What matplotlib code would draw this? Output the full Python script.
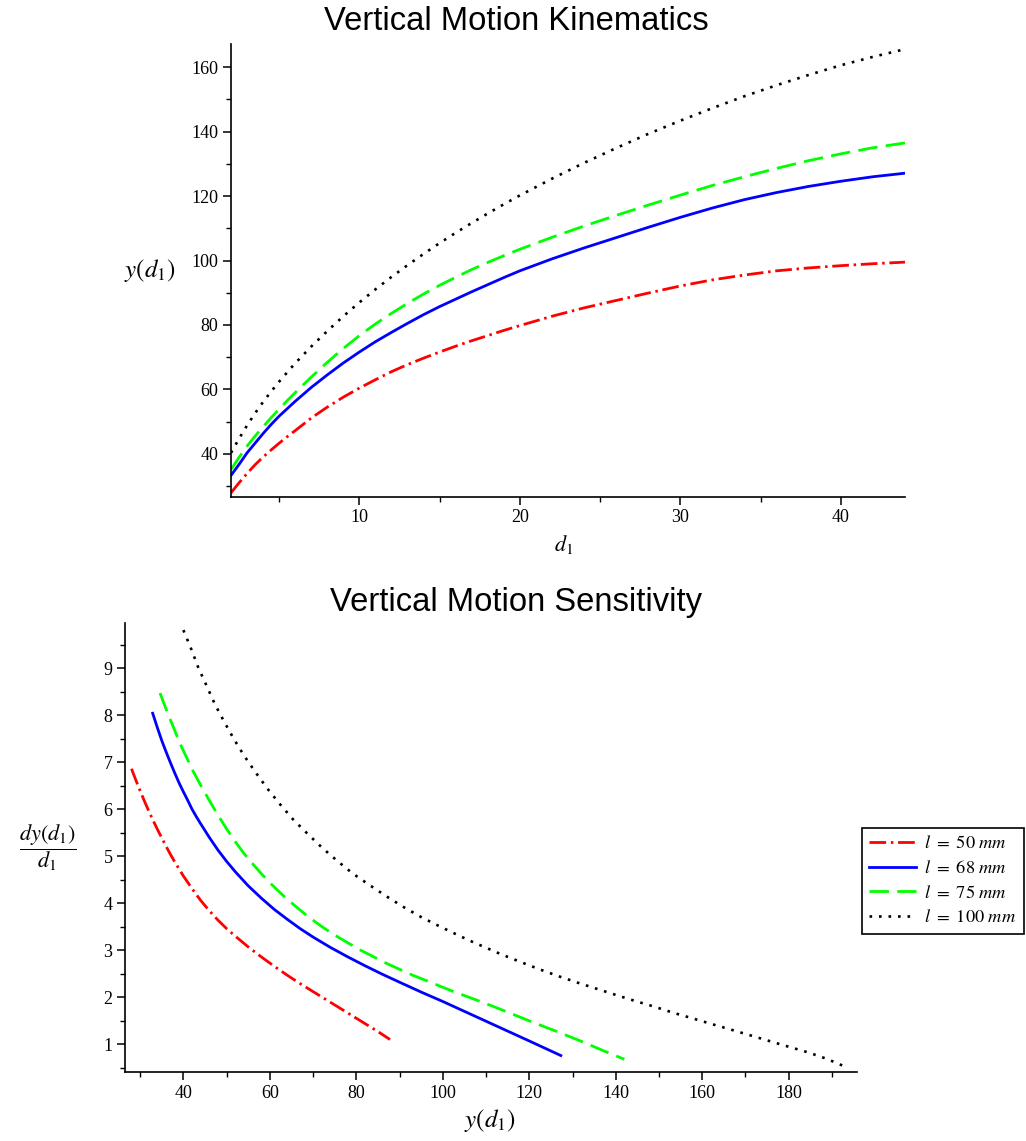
import matplotlib
matplotlib.use("Agg")
import matplotlib.pyplot as plt
from matplotlib.ticker import FixedLocator

plt.rcParams["font.family"] = ["Liberation Serif", "DejaVu Serif"]
plt.rcParams["mathtext.fontset"] = "stix"

# link lengths shown in the legend (mm)
link_lengths = [50, 68, 75, 100]
colors = ["#ff0000", "#0000ff", "#00ff00", "#000000"]
line_styles = [(0, (6, 1.7, 0.9, 1.7)), "-", (0, (7, 3)), (0, (1, 2.6))]
line_widths = [2.0, 2.0, 2.0, 1.9]

# --- vertical position y(d1) against the input displacement d1 ---
d1 = [2, 2.5, 3, 3.5, 4, 4.5, 5, 5.5, 6, 7, 8, 9, 10, 11, 12, 13, 14, 15, 16, 17,
      18, 19, 20, 22, 24, 26, 28, 30, 32, 34, 36, 38, 40, 42, 44]
y_l50 = [27.9, 31.0, 33.9, 36.6, 39.0, 41.2, 43.3, 45.3, 47.2, 51.1, 54.5, 57.6,
         60.4, 63.0, 65.5, 67.7, 69.7, 71.6, 73.4, 75.1, 76.7, 78.3, 79.8, 82.7,
         85.3, 87.6, 89.9, 92.1, 94.0, 95.5, 96.8, 97.7, 98.4, 99.0, 99.5]
y_l68 = [33.3, 36.7, 40.3, 43.3, 46.3, 49.1, 51.7, 54.0, 56.3, 60.6, 64.5, 68.2,
         71.6, 74.8, 77.7, 80.5, 83.2, 85.7, 88.0, 90.3, 92.5, 94.7, 96.8, 100.5,
         103.9, 107.1, 110.3, 113.4, 116.3, 118.9, 121.1, 123.0, 124.6, 126.0, 127.1]
y_l75 = [35.1, 38.9, 42.4, 45.5, 48.4, 51.2, 53.9, 56.5, 59.0, 63.8, 68.4, 72.7,
         76.7, 80.3, 83.6, 86.7, 89.6, 92.3, 94.8, 97.2, 99.4, 101.5, 103.5, 107.2,
         110.7, 114.0, 117.2, 120.3, 123.3, 126.0, 128.6, 131.0, 133.1, 135.0, 136.5]
y_l100 = [40.3, 44.7, 48.8, 52.6, 56.1, 59.35, 62.4, 65.3, 68.1, 73.3, 78.1, 82.7,
          87.0, 91.05, 94.9, 98.55, 102.05, 105.4, 108.6, 111.65, 114.6, 117.45, 120.2,
          125.4, 130.3, 134.9, 139.3, 143.4, 147.3, 151.0, 154.4, 157.6, 160.6, 163.2, 165.6]

# --- sensitivity dy/dd1 against the vertical position y ---
ys_l50 = [28, 29, 30, 31, 32, 33, 34, 35, 36, 37, 38, 39, 40, 42, 44, 46, 48, 50,
          52, 55, 58, 61, 64, 67, 70, 73, 76, 79, 82, 85, 87.8]
dy_l50 = [6.86, 6.62, 6.39, 6.17, 5.96, 5.76, 5.57, 5.39, 5.21, 5.04, 4.88, 4.73,
          4.58, 4.31, 4.06, 3.84, 3.64, 3.46, 3.30, 3.07, 2.86, 2.66, 2.47, 2.29,
          2.12, 1.95, 1.78, 1.61, 1.44, 1.27, 1.10]

ys_l68 = [32.9, 34, 35, 36, 37, 38, 39, 40, 41, 42, 43, 44, 46, 48, 50, 52, 55, 58,
          61, 64, 67, 70, 74, 78, 82, 86, 90, 95, 100, 105, 110, 115, 120, 127.3]
dy_l68 = [8.04, 7.73, 7.46, 7.22, 6.99, 6.77, 6.56, 6.37, 6.19, 6.00, 5.84, 5.69,
          5.40, 5.13, 4.89, 4.67, 4.37, 4.11, 3.87, 3.66, 3.46, 3.28, 3.06, 2.86,
          2.67, 2.49, 2.32, 2.11, 1.91, 1.70, 1.49, 1.28, 1.07, 0.76]

ys_l75 = [34.6, 35.5, 36.5, 37.5, 38.5, 39.6, 41, 42.3, 44, 45.6, 47, 48.5, 50, 52,
          54, 56.2, 58, 60.4, 63, 65.5, 68.5, 71.6, 74.5, 77.8, 81, 84, 87, 90.1, 93,
          96.3, 99.5, 102.5, 108.7, 112.9, 116.7, 121.3, 126.7, 132.1, 136.7, 142.0]
dy_l75 = [8.47, 8.25, 8.01, 7.79, 7.56, 7.32, 7.05, 6.80, 6.51, 6.25, 6.03, 5.80,
          5.58, 5.31, 5.06, 4.82, 4.63, 4.40, 4.17, 3.97, 3.74, 3.53, 3.35, 3.17,
          3.00, 2.86, 2.72, 2.59, 2.47, 2.35, 2.23, 2.12, 1.91, 1.76, 1.62, 1.45,
          1.26, 1.06, 0.88, 0.68]

ys_l100 = [40.0, 41.8, 43.5, 45.4, 47.3, 49.5, 51.7, 54.1, 56.8, 59.5, 62.4, 65.4,
           68.8, 72.1, 75.6, 79.2, 83.0, 86.9, 90.9, 94.9, 99.0, 103.3, 107.3, 111.6,
           113.6, 118.0, 122.5, 126.7, 131.2, 135.6, 140.0, 144.5, 148.9, 153.3, 157.8,
           162.2, 166.7, 171.1, 175.5, 179.9, 184.4, 188.8, 193.4]
dy_l100 = [9.81, 9.41, 9.00, 8.62, 8.23, 7.85, 7.49, 7.13, 6.77, 6.43, 6.10, 5.78,
           5.47, 5.18, 4.90, 4.63, 4.39, 4.15, 3.92, 3.71, 3.52, 3.33, 3.16, 2.99,
           2.91, 2.75, 2.59, 2.45, 2.31, 2.18, 2.05, 1.92, 1.80, 1.67, 1.55,
           1.43, 1.31, 1.19, 1.07, 0.95, 0.83, 0.69, 0.51]

W, H = 1026, 1141
fig = plt.figure(figsize=(W / 100, H / 100), dpi=100)


def px_axes(left, top, right, bottom):
    return fig.add_axes([left / W, 1 - bottom / H, (right - left) / W, (bottom - top) / H])


def style_axes(ax):
    for side in ("top", "right"):
        ax.spines[side].set_visible(False)
    for side in ("left", "bottom"):
        ax.spines[side].set_linewidth(1.2)
    ax.tick_params(which="major", direction="out", length=6, width=1.1,
                   labelsize=13, pad=3)
    ax.tick_params(which="minor", direction="out", length=3.5, width=1.0)


ax1 = px_axes(231, 44, 905, 497)
top_series = [y_l50, y_l68, y_l75, y_l100]
for vals, c, ls, lw in zip(top_series, colors, line_styles, line_widths):
    ax1.plot(d1, vals, color=c, linestyle=ls, linewidth=lw)
ax1.set_xlim(2, 44)
ax1.set_ylim(26.6, 167.2)
ax1.xaxis.set_major_locator(FixedLocator([10, 20, 30, 40]))
ax1.xaxis.set_minor_locator(FixedLocator([5, 15, 25, 35]))
ax1.yaxis.set_major_locator(FixedLocator(list(range(40, 161, 20))))
ax1.yaxis.set_minor_locator(FixedLocator(list(range(30, 151, 20))))
style_axes(ax1)

ax2 = px_axes(125, 623, 857, 1072)
bottom_series = [(ys_l50, dy_l50), (ys_l68, dy_l68), (ys_l75, dy_l75), (ys_l100, dy_l100)]
handles = []
for (xs, vs), c, ls, lw, L in zip(bottom_series, colors, line_styles, line_widths, link_lengths):
    h, = ax2.plot(xs, vs, color=c, linestyle=ls, linewidth=lw,
                  label=r"$l\ =\ %d\ mm$" % L)
    handles.append(h)
ax2.set_xlim(26.5, 195.8)
ax2.set_ylim(0.41, 9.96)
ax2.xaxis.set_major_locator(FixedLocator(list(range(40, 181, 20))))
ax2.xaxis.set_minor_locator(FixedLocator(list(range(30, 191, 20))))
ax2.yaxis.set_major_locator(FixedLocator(list(range(1, 10))))
ax2.yaxis.set_minor_locator(FixedLocator([k + 0.5 for k in range(0, 10)]))
style_axes(ax2)

title_font = dict(family="Liberation Sans", fontsize=23.6)
fig.text(516 / W, 1 - 22 / H, "Vertical Motion Kinematics", ha="center", va="center", **title_font)
fig.text(516 / W, 1 - 603 / H, "Vertical Motion Sensitivity", ha="center", va="center", **title_font)

fig.text(150 / W, 1 - 271 / H, r"$y\left(d_1\right)$", ha="center", va="center", fontsize=18)
fig.text(564 / W, 1 - 545 / H, r"$d_1$", ha="center", va="center", fontsize=16)
fig.text(490 / W, 1 - 1121 / H, r"$y\left(d_1\right)$", ha="center", va="center", fontsize=18)
fig.text(48 / W, 1 - 848 / H, r"$\dfrac{dy\left(d_1\right)}{d_1}$", ha="center", va="center",
         fontsize=16)

leg = fig.legend(handles=handles, loc="upper left",
                 bbox_to_anchor=(862 / W, 1 - 828 / H), fontsize=13.2,
                 frameon=True, fancybox=False, shadow=False, framealpha=1,
                 edgecolor="black", handlelength=2.55, handletextpad=0.45,
                 borderpad=0.4, labelspacing=0.42, borderaxespad=0)
leg.get_frame().set_linewidth(1.2)

fig.savefig("out.png", dpi=100)
